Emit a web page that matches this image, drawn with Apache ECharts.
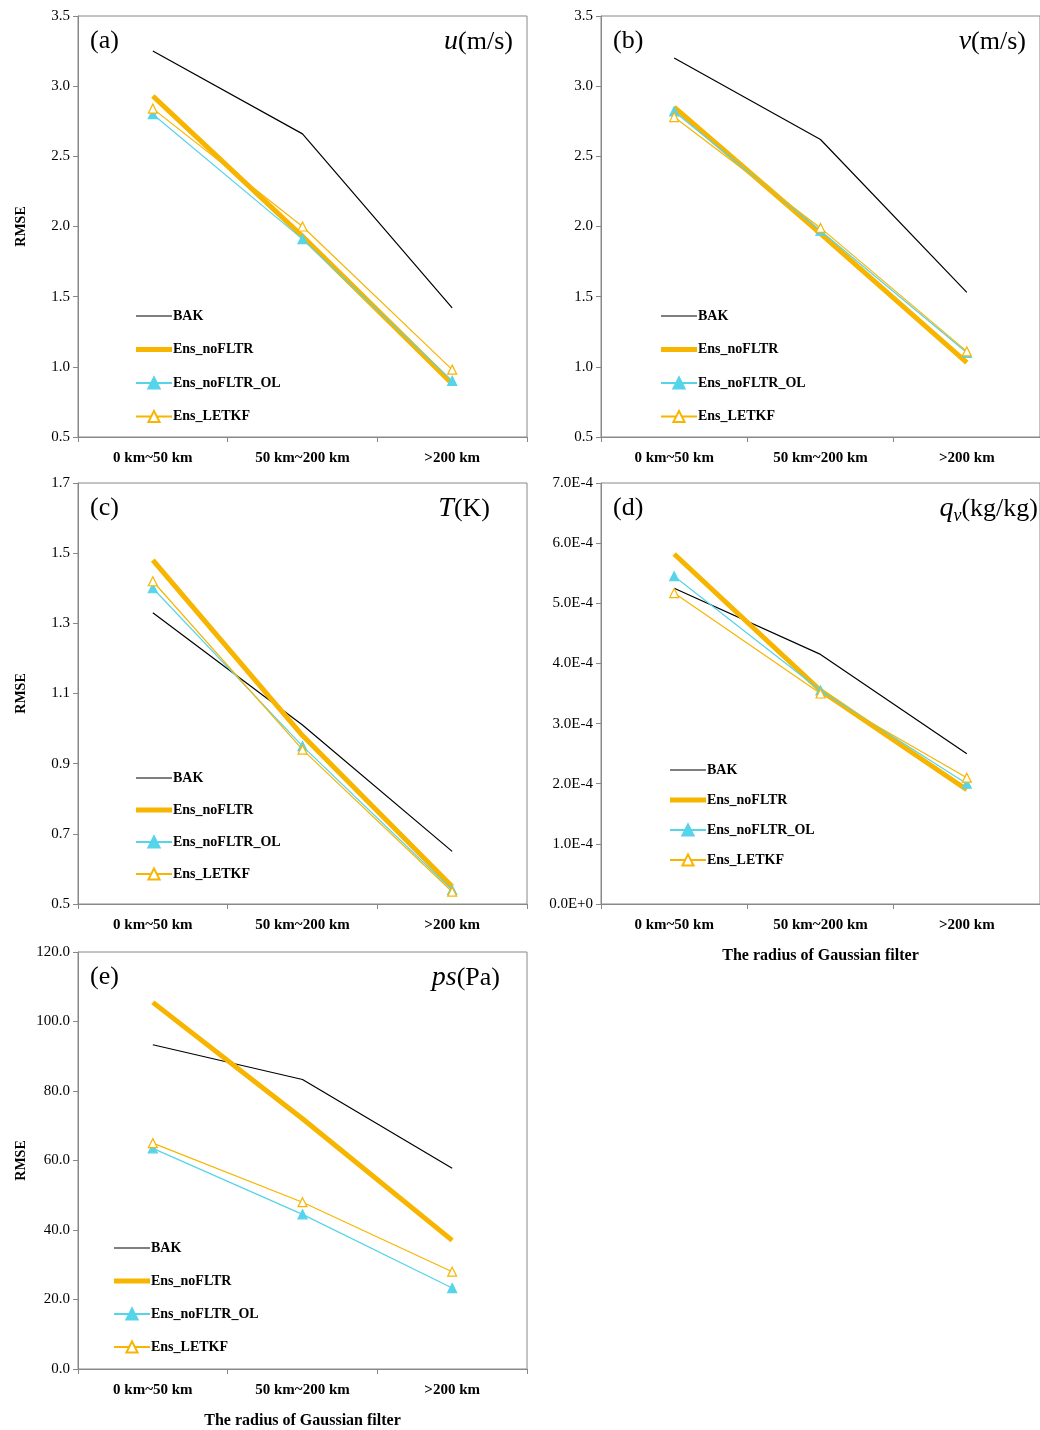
<!DOCTYPE html>
<html><head><meta charset="utf-8">
<script src="https://cdn.jsdelivr.net/npm/echarts@6/dist/echarts.min.js"></script>
<style>html,body{margin:0;padding:0;background:#fff}#c{width:1040px;height:1430px}</style>
</head><body><div id="c"></div>
<script>
const categories = ['0 km~50 km', '50 km~200 km', '>200 km'];
const seriesNames = ['BAK', 'Ens_noFLTR', 'Ens_noFLTR_OL', 'Ens_LETKF'];
const uBAK = [3.25, 2.66, 1.42], uNoF = [2.93, 1.93, 0.88], uOL = [2.80, 1.91, 0.90], uLET = [2.84, 2.00, 0.98];
const vBAK = [3.20, 2.62, 1.53], vNoF = [2.85, 1.95, 1.03], vOL = [2.82, 1.97, 1.10], vLET = [2.78, 1.99, 1.11];
const tBAK = [1.33, 1.01, 0.65], tNoF = [1.48, 0.98, 0.55], tOL = [1.40, 0.95, 0.54], tLET = [1.42, 0.94, 0.535];
const qBAK = [5.25e-4, 4.15e-4, 2.5e-4], qNoF = [5.82e-4, 3.55e-4, 1.9e-4], qOL = [5.45e-4, 3.55e-4, 2.0e-4], qLET = [5.17e-4, 3.5e-4, 2.1e-4];
const pBAK = [93.3, 83.3, 57.8], pNoF = [105.5, 72.0, 37.0], pOL = [63.5, 44.5, 23.3], pLET = [65.0, 48.0, 28.0];

const FONT = 'Liberation Serif';
const panels = [
  {data:[uBAK,uNoF,uOL,uLET], min:0.5, max:3.5, iv:0.5, fmt:v=>v.toFixed(1), grid:{left:78,top:16,width:449,height:421}, leg:{left:130,top:304,gap:19.5}, tag:'(a)', v:'u', unit:'(m/s)', ylab:true},
  {data:[vBAK,vNoF,vOL,vLET], min:0.5, max:3.5, iv:0.5, fmt:v=>v.toFixed(1), grid:{left:601,top:16,width:450,height:421}, leg:{left:655,top:304,gap:19.5}, tag:'(b)', v:'v', unit:'(m/s)', tr:1026},
  {data:[tBAK,tNoF,tOL,tLET], min:0.5, max:1.7, iv:0.2, fmt:v=>v.toFixed(1), grid:{left:78,top:483,width:449,height:421}, leg:{left:130,top:766,gap:18}, tag:'(c)', v:'T', unit:'(K)', ylab:true, tr:490},
  {data:[qBAK,qNoF,qOL,qLET], min:0, max:7e-4, iv:1e-4, fmt:v=>{const m=Math.round(v*1e4*10)/10; return m===0?'0.0E+0':m.toFixed(1)+'E-4';}, grid:{left:601,top:483,width:450,height:421}, leg:{left:664,top:758,gap:16}, tag:'(d)', v:'q', sub:'v', unit:'(kg/kg)', xname:true, tr:1038},
  {data:[pBAK,pNoF,pOL,pLET], min:0, max:120, iv:20, fmt:v=>v.toFixed(1), grid:{left:78,top:952,width:449,height:421}, leg:{left:108,top:1236,gap:19}, tag:'(e)', v:'ps', unit:'(Pa)', ylab:true, xname:true, tr:500}
];
const styles = [
  {color:'#000', width:1.2, symbol:'none'},
  {color:'#f7b500', width:5, symbol:'none'},
  {color:'#55d4ea', width:1.2, symbol:'triangle', fill:'#55d4ea'},
  {color:'#f7b500', width:1.2, symbol:'triangle', fill:'#fff'}
];
const legendData = [
  {name:'BAK', icon:'path://M0,0h0.01v0.01h-0.01z M0,6.4h36v1.2h-36z M0,14h0.01v0.01h-0.01z', itemStyle:{color:'#000', borderWidth:0}},
  {name:'Ens_noFLTR', icon:'path://M0,0h0.01v0.01h-0.01z M0,4.5h36v5h-36z M0,14h0.01v0.01h-0.01z', itemStyle:{color:'#f7b500', borderWidth:0}},
  {name:'Ens_noFLTR_OL'},
  {name:'Ens_LETKF'}
];
const opt = {animation:false, backgroundColor:'#fff', grid:[], xAxis:[], yAxis:[], series:[], legend:[], graphic:[]};
panels.forEach((p,i)=>{
  opt.grid.push(Object.assign({show:true, borderColor:'#888', borderWidth:1}, p.grid));
  opt.xAxis.push({type:'category', gridIndex:i, data:categories, boundaryGap:true,
    axisLine:{lineStyle:{color:'#888'}}, axisTick:{show:true, lineStyle:{color:'#888'}, length:5},
    axisLabel:{color:'#000', fontFamily:FONT, fontWeight:'bold', fontSize:15, margin:14},
    name: p.xname?'The radius of Gaussian filter':'', nameLocation:'middle', nameGap:44,
    nameTextStyle:{color:'#000', fontFamily:FONT, fontWeight:'bold', fontSize:16}});
  opt.yAxis.push({type:'value', gridIndex:i, min:p.min, max:p.max, interval:p.iv,
    axisLine:{show:true, lineStyle:{color:'#888'}}, axisTick:{show:true, lineStyle:{color:'#888'}, length:5},
    splitLine:{show:false},
    axisLabel:{color:'#000', fontFamily:FONT, fontSize:15, formatter:p.fmt, margin:8},
    name: p.ylab?'RMSE':'', nameLocation:'middle', nameGap:50,
    nameTextStyle:{color:'#000', fontFamily:FONT, fontWeight:'bold', fontSize:14}});
  p.data.forEach((d,k)=>{
    const s = styles[k];
    opt.series.push({type:'line', name:seriesNames[k], xAxisIndex:i, yAxisIndex:i, data:d,
      symbol:s.symbol, symbolSize:9, showSymbol:s.symbol!=='none',
      lineStyle:{color:s.color, width:s.width},
      itemStyle:{color:s.fill||s.color, borderColor:s.color, borderWidth:1.2}, z:k===0?2:3});
  });
  opt.legend.push({orient:'vertical', left:p.leg.left, top:p.leg.top, itemGap:p.leg.gap, itemWidth:36, itemHeight:14,
    data:legendData, selectedMode:false,
    textStyle:{color:'#000', fontFamily:FONT, fontWeight:'bold', fontSize:14, padding:[0,0,0,-4]}});
  opt.graphic.push({type:'text', left:p.grid.left+12, top:p.grid.top+12,
    style:{text:p.tag, font:'26px "Liberation Serif"', fill:'#000'}});
  const rich = {i:{fontFamily:FONT, fontStyle:'italic', fontSize:28, color:'#000'},
    s:{fontFamily:FONT, fontStyle:'italic', fontSize:18, verticalAlign:'bottom', padding:[14,0,0,0], color:'#000'},
    n:{fontFamily:FONT, fontSize:26, color:'#000'}};
  const rightEdge = p.tr || (p.grid.left+p.grid.width-14);
  opt.graphic.push({type:'text', right:1040-rightEdge, top:p.grid.top+12,
    style:{rich:rich, text:'{i|'+p.v+'}'+(p.sub?'{s|'+p.sub+'}':'')+'{n|'+p.unit+'}'}});
});
const ch = echarts.init(document.getElementById('c'));
ch.setOption(opt);
</script></body></html>
